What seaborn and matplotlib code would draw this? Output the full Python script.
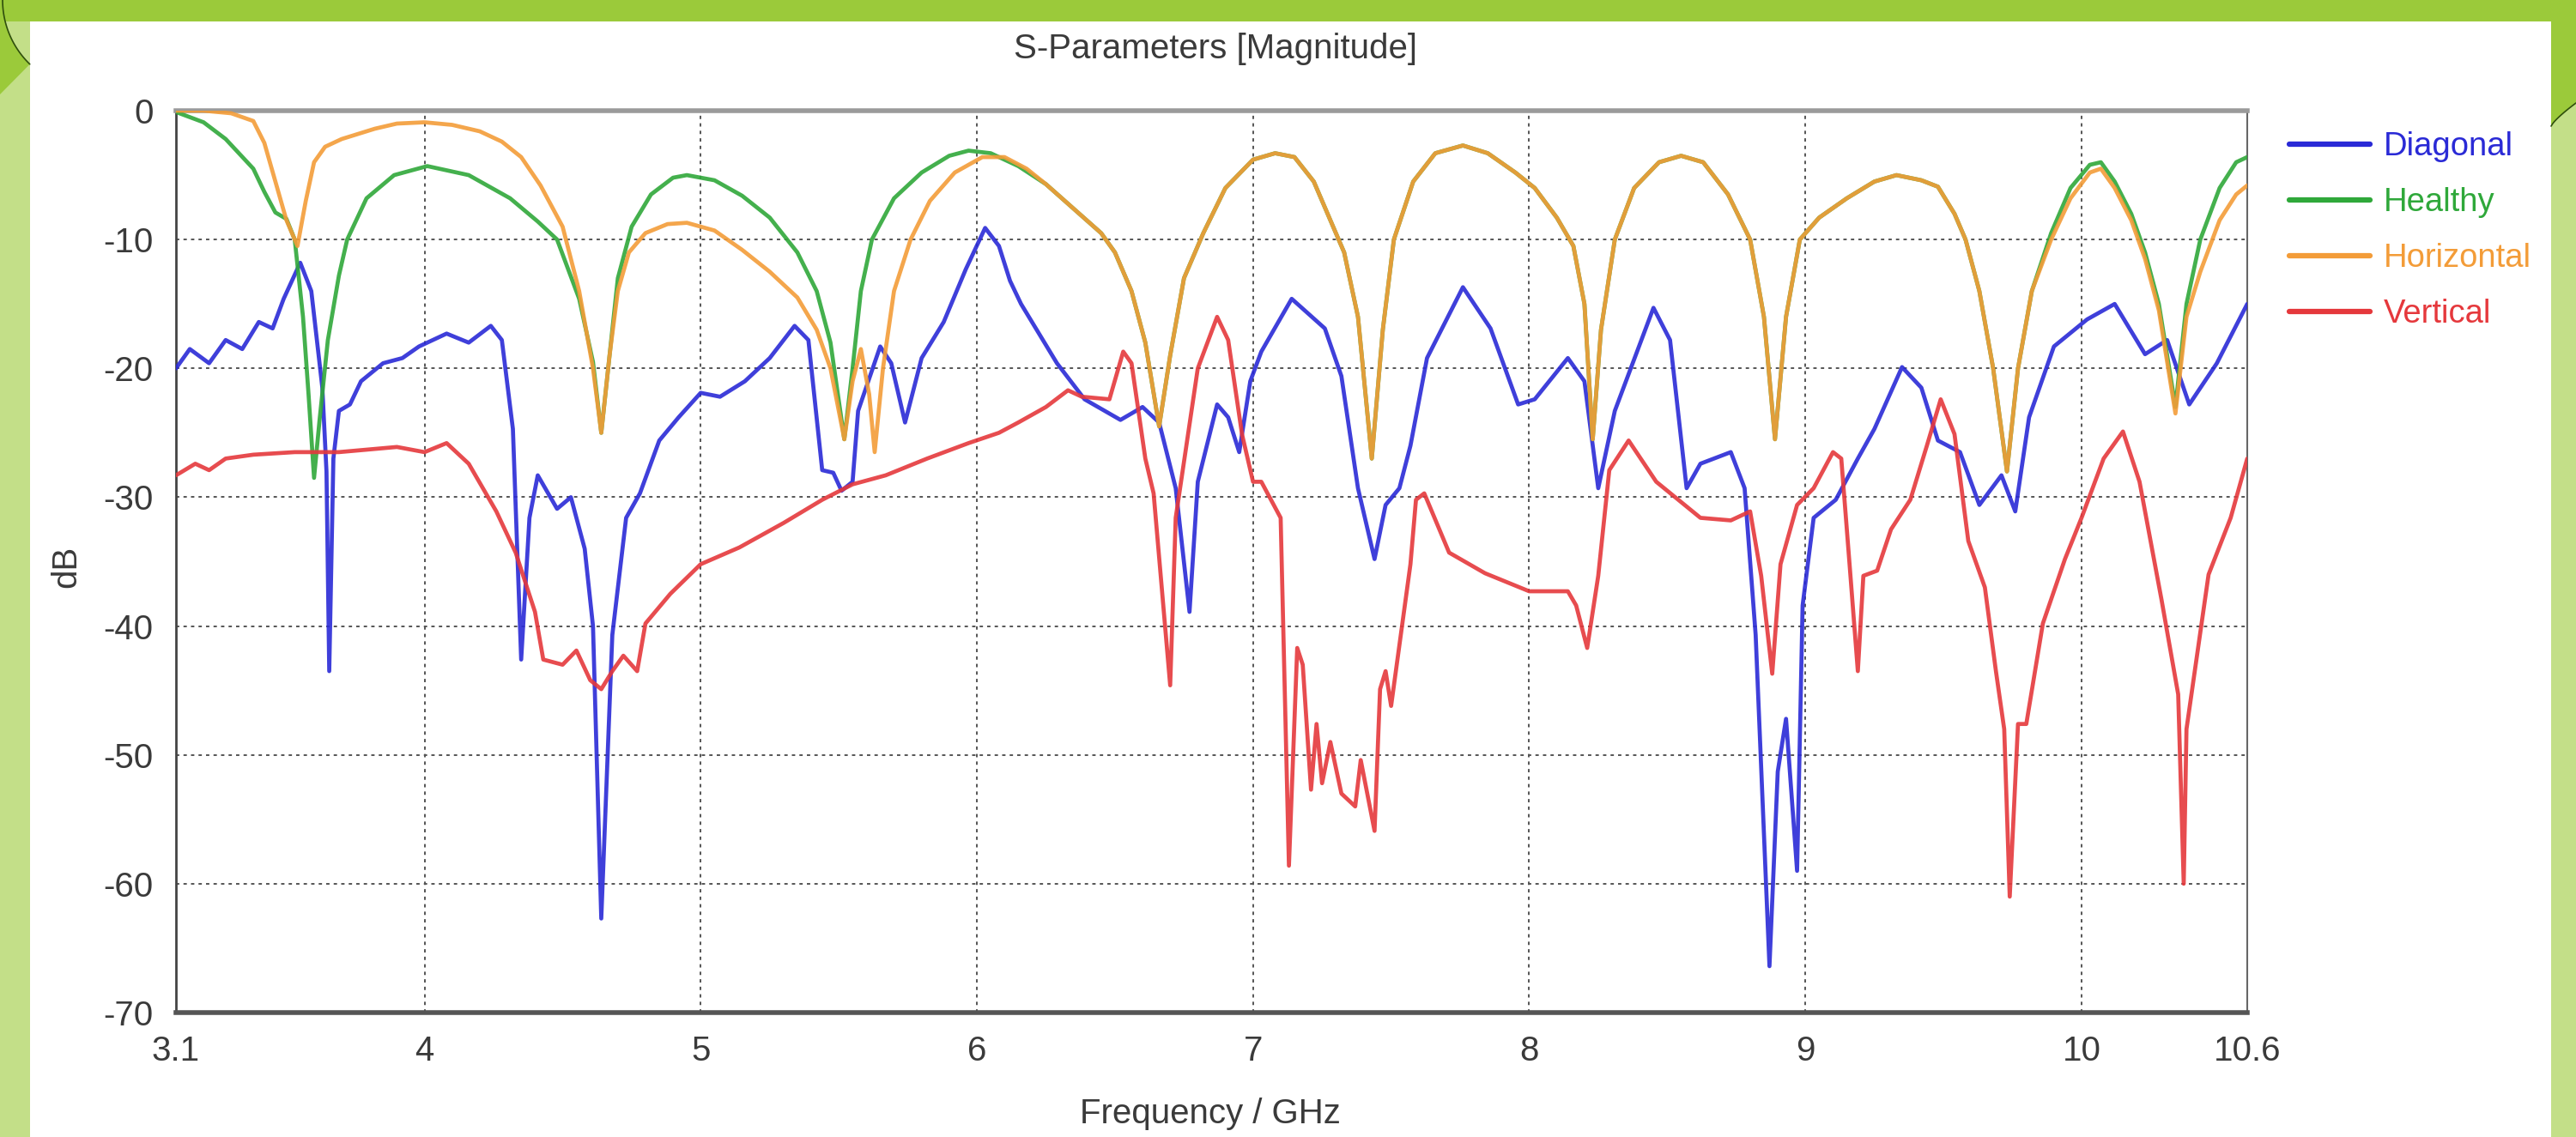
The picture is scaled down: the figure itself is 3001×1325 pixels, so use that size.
import numpy as np
import pandas as pd
import matplotlib
matplotlib.use("Agg")
import matplotlib.pyplot as plt
from matplotlib.patches import Rectangle, Polygon
from matplotlib.lines import Line2D
import seaborn as sns

# ==================================================
# 1. DATA  (frequency in GHz, magnitude in dB)
# ==================================================
diag_f = [3.10, 3.15, 3.22, 3.28, 3.34, 3.40, 3.45, 3.49, 3.55, 3.59, 3.63, 3.645, 3.655, 3.67,
          3.69, 3.73, 3.77, 3.85, 3.92, 3.98, 4.08, 4.16, 4.24, 4.28, 4.32, 4.35, 4.38, 4.41,
          4.48, 4.53, 4.58, 4.61, 4.64, 4.68, 4.73, 4.78, 4.85, 4.92, 5.00, 5.07, 5.16, 5.25,
          5.34, 5.39, 5.44, 5.48, 5.51, 5.55, 5.57, 5.65, 5.69, 5.74, 5.80, 5.88, 5.96, 6.03,
          6.08, 6.12, 6.16, 6.29, 6.39, 6.52, 6.60, 6.66, 6.72, 6.77, 6.80, 6.87, 6.91, 6.95,
          6.99, 7.03, 7.14, 7.26, 7.32, 7.38, 7.44, 7.48, 7.53, 7.57, 7.63, 7.76, 7.86, 7.96,
          8.02, 8.14, 8.20, 8.25, 8.31, 8.45, 8.51, 8.57, 8.62, 8.73, 8.78, 8.82, 8.87, 8.90,
          8.93, 8.97, 8.99, 9.03, 9.11, 9.19, 9.25, 9.35, 9.42, 9.48, 9.56, 9.63, 9.71, 9.76,
          9.81, 9.90, 10.02, 10.12, 10.23, 10.31, 10.39, 10.49, 10.60]
diag_db = [-20.0, -18.5, -19.6, -17.8, -18.5, -16.4, -16.9, -14.6, -11.8, -14.0, -21.5, -28.0, -43.5, -27.0,
           -23.3, -22.8, -21.0, -19.6, -19.2, -18.3, -17.3, -18.0, -16.7, -17.8, -24.7, -42.6, -31.6, -28.3,
           -30.9, -30.0, -34.0, -40.0, -62.7, -40.7, -31.6, -29.7, -25.6, -23.8, -21.9, -22.2, -21.0, -19.2,
           -16.7, -17.8, -27.9, -28.1, -29.5, -28.8, -23.3, -18.3, -19.6, -24.2, -19.2, -16.4, -12.3, -9.1,
           -10.5, -13.2, -15.0, -19.6, -22.4, -24.0, -23.0, -24.2, -29.3, -38.9, -28.8, -22.8, -23.8, -26.5,
           -21.0, -18.7, -14.6, -16.9, -20.6, -29.3, -34.8, -30.6, -29.3, -26.0, -19.2, -13.7, -16.9, -22.8,
           -22.4, -19.2, -21.0, -29.3, -23.3, -15.3, -17.8, -29.3, -27.4, -26.5, -29.3, -40.7, -66.4, -51.3,
           -47.2, -59.0, -38.4, -31.6, -30.2, -27.0, -24.7, -19.9, -21.5, -25.6, -26.5, -30.6, -28.3, -31.1,
           -23.8, -18.3, -16.2, -15.0, -18.9, -17.8, -22.8, -19.6, -15.0]

healthy_f = [3.10, 3.20, 3.28, 3.38, 3.42, 3.46, 3.50, 3.53, 3.56, 3.58, 3.60, 3.62, 3.65, 3.69,
             3.72, 3.79, 3.89, 4.01, 4.16, 4.31, 4.41, 4.48, 4.56, 4.61, 4.64, 4.67, 4.70, 4.75,
             4.82, 4.90, 4.95, 5.05, 5.15, 5.25, 5.35, 5.42, 5.47, 5.52, 5.55, 5.58, 5.62, 5.70,
             5.80, 5.90, 5.97, 6.05, 6.15, 6.25, 6.35, 6.45, 6.50, 6.56, 6.61, 6.66, 6.70, 6.75,
             6.82, 6.90, 7.00, 7.08, 7.15, 7.22, 7.28, 7.33, 7.38, 7.43, 7.47, 7.51, 7.58, 7.66,
             7.76, 7.85, 7.95, 8.02, 8.10, 8.16, 8.20, 8.23, 8.26, 8.31, 8.38, 8.47, 8.55, 8.63,
             8.72, 8.80, 8.85, 8.89, 8.93, 8.98, 9.05, 9.15, 9.25, 9.33, 9.42, 9.48, 9.54, 9.58,
             9.63, 9.68, 9.73, 9.77, 9.82, 9.89, 9.96, 10.03, 10.07, 10.12, 10.18, 10.23, 10.28,
             10.34, 10.38, 10.43, 10.50, 10.56, 10.60]
healthy_db = [-0.1, -0.9, -2.2, -4.5, -6.3, -7.9, -8.4, -10.0, -16.0, -22.0, -28.5, -24.0, -17.8, -12.8,
              -10.0, -6.8, -5.0, -4.3, -5.0, -6.8, -8.6, -10.0, -14.6, -19.5, -25.0, -19.0, -13.0, -9.0,
              -6.5, -5.2, -5.0, -5.4, -6.6, -8.3, -11.0, -14.0, -18.0, -25.5, -20.0, -14.0, -10.0, -6.8,
              -4.8, -3.5, -3.1, -3.3, -4.3, -5.7, -7.6, -9.5, -11.0, -14.0, -18.0, -24.5, -19.0, -13.0,
              -9.5, -6.0, -3.8, -3.3, -3.6, -5.5, -8.5, -11.0, -16.0, -27.0, -17.0, -10.0, -5.5, -3.3,
              -2.7, -3.3, -4.8, -6.0, -8.3, -10.5, -15.0, -25.5, -17.0, -10.0, -6.0, -4.0, -3.5, -4.0,
              -6.5, -10.0, -16.0, -25.5, -16.0, -10.0, -8.3, -6.8, -5.5, -5.0, -5.4, -5.9, -8.0, -10.0,
              -14.0, -20.0, -28.0, -20.0, -14.0, -9.5, -6.0, -4.2, -4.0, -5.5, -8.0, -11.0, -15.0,
              -23.0, -15.0, -10.0, -6.0, -4.0, -3.6]

horiz_f = [3.10, 3.20, 3.30, 3.38, 3.42, 3.46, 3.50, 3.54, 3.57, 3.60, 3.64, 3.70, 3.76, 3.82,
           3.90, 4.00, 4.10, 4.20, 4.28, 4.35, 4.42, 4.50, 4.56, 4.61, 4.64, 4.67, 4.70, 4.74,
           4.80, 4.88, 4.95, 5.05, 5.15, 5.25, 5.35, 5.42, 5.47, 5.52, 5.55, 5.58, 5.61, 5.63,
           5.66, 5.70, 5.76, 5.83, 5.92, 6.02, 6.10, 6.18, 6.25, 6.35, 6.45, 6.50, 6.56, 6.61,
           6.66, 6.70, 6.75, 6.82, 6.90, 7.00, 7.08, 7.15, 7.22, 7.28, 7.33, 7.38, 7.43, 7.47,
           7.51, 7.58, 7.66, 7.76, 7.85, 7.95, 8.02, 8.10, 8.16, 8.20, 8.23, 8.26, 8.31, 8.38,
           8.47, 8.55, 8.63, 8.72, 8.80, 8.85, 8.89, 8.93, 8.98, 9.05, 9.15, 9.25, 9.33, 9.42,
           9.48, 9.54, 9.58, 9.63, 9.68, 9.73, 9.77, 9.82, 9.89, 9.96, 10.03, 10.07, 10.12,
           10.18, 10.23, 10.28, 10.34, 10.38, 10.43, 10.50, 10.56, 10.60]
horiz_db = [0.0, 0.0, -0.2, -0.8, -2.5, -5.5, -8.5, -10.5, -7.0, -4.0, -2.8, -2.2, -1.8, -1.4,
            -1.0, -0.9, -1.1, -1.6, -2.4, -3.6, -5.8, -9.0, -14.0, -20.0, -25.0, -19.0, -14.0, -11.0,
            -9.5, -8.8, -8.7, -9.3, -10.8, -12.5, -14.5, -17.0, -20.0, -25.5, -21.0, -18.5, -22.0, -26.5,
            -20.0, -14.0, -10.0, -7.0, -4.8, -3.6, -3.6, -4.5, -5.7, -7.6, -9.5, -11.0, -14.0, -18.0,
            -24.5, -19.0, -13.0, -9.5, -6.0, -3.8, -3.3, -3.6, -5.5, -8.5, -11.0, -16.0, -27.0, -17.0,
            -10.0, -5.5, -3.3, -2.7, -3.3, -4.8, -6.0, -8.3, -10.5, -15.0, -25.5, -17.0, -10.0, -6.0,
            -4.0, -3.5, -4.0, -6.5, -10.0, -16.0, -25.5, -16.0, -10.0, -8.3, -6.8, -5.5, -5.0, -5.4,
            -5.9, -8.0, -10.0, -14.0, -20.0, -28.0, -20.0, -14.0, -10.0, -6.8, -4.8, -4.5, -6.0,
            -8.5, -11.5, -15.5, -23.5, -16.0, -12.5, -8.5, -6.5, -5.8]

vert_f = [3.10, 3.17, 3.22, 3.28, 3.38, 3.53, 3.69, 3.90, 4.00, 4.08, 4.16, 4.26, 4.33, 4.40,
          4.43, 4.50, 4.55, 4.60, 4.64, 4.68, 4.72, 4.77, 4.80, 4.89, 5.00, 5.14, 5.30, 5.44,
          5.55, 5.67, 5.82, 5.97, 6.08, 6.15, 6.25, 6.33, 6.38, 6.48, 6.53, 6.56, 6.61, 6.64,
          6.70, 6.72, 6.80, 6.87, 6.91, 6.96, 7.00, 7.03, 7.10, 7.13, 7.16, 7.18, 7.21, 7.23,
          7.25, 7.28, 7.32, 7.37, 7.39, 7.44, 7.46, 7.48, 7.50, 7.57, 7.59, 7.62, 7.71, 7.84,
          8.00, 8.14, 8.17, 8.21, 8.25, 8.29, 8.36, 8.46, 8.62, 8.73, 8.80, 8.84, 8.88, 8.91,
          8.97, 9.03, 9.10, 9.13, 9.16, 9.19, 9.21, 9.26, 9.31, 9.38, 9.44, 9.49, 9.54, 9.59,
          9.65, 9.69, 9.72, 9.74, 9.77, 9.80, 9.86, 9.94, 10.00, 10.08, 10.15, 10.21, 10.29,
          10.35, 10.37, 10.38, 10.46, 10.54, 10.60]
vert_db = [-28.3, -27.4, -27.9, -27.0, -26.7, -26.5, -26.5, -26.1, -26.5, -25.8, -27.4, -31.1, -34.3, -38.9,
           -42.6, -43.0, -41.9, -44.2, -44.9, -43.5, -42.3, -43.5, -39.8, -37.5, -35.2, -33.9, -32.0, -30.2,
           -29.0, -28.3, -27.0, -25.8, -25.0, -24.2, -23.0, -21.7, -22.2, -22.4, -18.7, -19.6, -27.0, -29.7,
           -44.6, -31.6, -20.0, -16.0, -17.8, -25.1, -28.8, -28.8, -31.6, -58.6, -41.7, -43.0, -52.7, -47.6,
           -52.2, -49.0, -53.0, -54.0, -50.4, -55.9, -44.9, -43.5, -46.2, -35.2, -30.2, -29.7, -34.3, -35.9,
           -37.3, -37.3, -38.4, -41.7, -36.1, -27.9, -25.6, -28.8, -31.6, -31.8, -31.1, -36.1, -43.7, -35.2,
           -30.6, -29.3, -26.5, -27.0, -35.2, -43.5, -36.1, -35.7, -32.5, -30.2, -26.0, -22.4, -25.1, -33.4,
           -37.0, -43.5, -48.0, -61.0, -47.6, -47.6, -39.8, -34.8, -31.6, -27.0, -24.9, -28.8, -38.0,
           -45.3, -60.0, -48.0, -36.0, -31.6, -27.0]

series_names = ["Diagonal", "Healthy", "Horizontal", "Vertical"]
series_colors = ["#2a2ad6", "#2fa83a", "#f39c38", "#e5383c"]
x_ticks = [3.1, 4, 5, 6, 7, 8, 9, 10, 10.6]
x_tick_labels = ["3.1", "4", "5", "6", "7", "8", "9", "10", "10.6"]
y_ticks = [0, -10, -20, -30, -40, -50, -60, -70]

df = pd.concat([
    pd.DataFrame({"freq": diag_f, "dB": diag_db, "series": "Diagonal"}),
    pd.DataFrame({"freq": healthy_f, "dB": healthy_db, "series": "Healthy"}),
    pd.DataFrame({"freq": horiz_f, "dB": horiz_db, "series": "Horizontal"}),
    pd.DataFrame({"freq": vert_f, "dB": vert_db, "series": "Vertical"}),
], ignore_index=True)
palette = dict(zip(series_names, series_colors))

# ==================================================
# 2. FIGURE + SLIDE BACKGROUND
# ==================================================
sns.set_style("white")
plt.rcParams["font.family"] = ["Liberation Sans", "DejaVu Sans"]
plt.rcParams["axes.unicode_minus"] = False

W, H = 3001, 1325
fig = plt.figure(figsize=(W / 100, H / 100), dpi=100)
fig.patch.set_facecolor("white")

dark_green = "#9bca3a"
light_green = "#c3df88"


def px(x, y):
    # pixel (from top-left) -> figure fraction
    return (x / W, 1 - y / H)


def rect(x0, y0, x1, y1, color):
    fig.patches.append(Rectangle(px(x0, y1), (x1 - x0) / W, (y1 - y0) / H,
                                 transform=fig.transFigure, color=color, lw=0, zorder=0))


rect(0, 0, W, 25, dark_green)
rect(0, 25, 35, H, light_green)
rect(2972, 25, W, H, light_green)

# decorative arcs at the top corners
t = np.linspace(np.pi, np.radians(134), 30)
arc_l = [px(107 + 104 * np.cos(a), 104 * np.sin(a)) for a in t]
fig.patches.append(Polygon([px(0, 0)] + arc_l + [px(0, 110)], closed=True,
                           transform=fig.transFigure, color=dark_green, lw=0, zorder=1))
fig.lines.append(Line2D([p[0] for p in arc_l], [p[1] for p in arc_l],
                        transform=fig.transFigure, color="#2f4f0c", lw=1.2, zorder=2))
arc_r = [px(2972 + 29 * s, 147 - 27 * s ** 0.8) for s in np.linspace(0, 1, 15)]
fig.patches.append(Polygon([px(2972, 25), px(W, 25)] + arc_r[::-1], closed=True,
                           transform=fig.transFigure, color=dark_green, lw=0, zorder=1))
fig.lines.append(Line2D([p[0] for p in arc_r], [p[1] for p in arc_r],
                        transform=fig.transFigure, color="#2f4f0c", lw=1.2, zorder=2))

# ==================================================
# 3. PLOT
# ==================================================
ax = fig.add_axes([205 / W, (H - 1180) / H, (2618 - 205) / W, (1180 - 129) / H])
ax.set_facecolor("white")

sns.lineplot(data=df, x="freq", y="dB", hue="series", hue_order=series_names,
             palette=palette, estimator=None, linewidth=3.4, alpha=0.9,
             legend=False, ax=ax, zorder=3)

ax.set_xlim(3.1, 10.6)
ax.set_ylim(-70, 0)
ax.set_xticks(x_ticks)
ax.set_xticklabels(x_tick_labels)
ax.set_yticks(y_ticks)
ax.set_xlabel("")
ax.set_ylabel("")
ax.grid(True, color="#555555", linestyle=(0, (2, 2.5)), linewidth=1.4)
ax.set_axisbelow(True)
ax.tick_params(axis="both", direction="out", length=4, width=1.5, color="#555555",
               labelsize=29, labelcolor="#3a3a3a", pad=15)

ax.spines["left"].set_color("#444444")
ax.spines["left"].set_linewidth(2)
ax.spines["bottom"].set_color("#555555")
ax.spines["bottom"].set_linewidth(4)
ax.spines["top"].set_color("#9a9a9a")
ax.spines["top"].set_linewidth(4)
ax.spines["right"].set_color("#666666")
ax.spines["right"].set_linewidth(1.5)

fig.text(*px(1416, 57), "S-Parameters [Magnitude]", ha="center", va="center",
         fontsize=29, color="#3a3a3a")
fig.text(*px(1410, 1298), "Frequency / GHz", ha="center", va="center",
         fontsize=29, color="#3a3a3a")
fig.text(*px(77, 660), "dB", ha="center", va="center", rotation=90,
         fontsize=29, color="#3a3a3a")

handles = [Line2D([0], [0], color=c, lw=4.5) for c in series_colors]
leg = ax.legend(handles, series_names, loc="upper left", bbox_to_anchor=(1.0203, 0.977),
                frameon=False, fontsize=27.5, handlelength=2.45, handletextpad=0.42,
                labelspacing=0.76, borderpad=0, borderaxespad=0)
for txt, c in zip(leg.get_texts(), series_colors):
    txt.set_color(c)

fig.savefig("out.png", dpi=100, facecolor=fig.get_facecolor())
